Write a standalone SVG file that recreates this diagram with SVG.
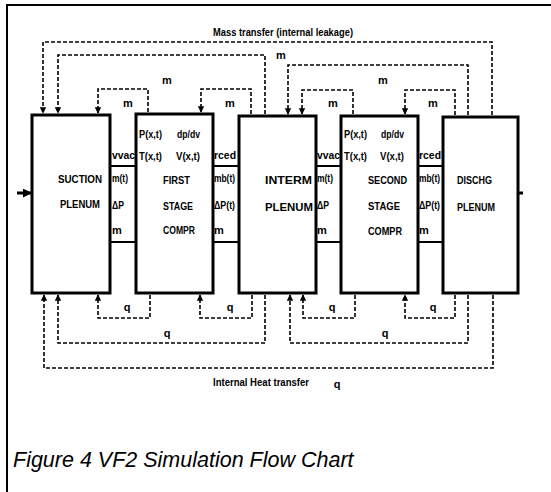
<svg xmlns="http://www.w3.org/2000/svg" width="551" height="492" viewBox="0 0 551 492">
<style>
.box{fill:#fff;stroke:#000;stroke-width:3}
.band{stroke:#000;stroke-width:2;fill:none}
.dash{fill:none;stroke:#000;stroke-width:1.6;stroke-dasharray:4 2}
.lb{font-family:"Liberation Sans",Arial,sans-serif;font-weight:bold;font-size:11.5px;fill:#000}
.sm{font-family:"Liberation Sans",Arial,sans-serif;font-weight:bold;font-size:11px;fill:#000}
.xs{font-family:"Liberation Sans",Arial,sans-serif;font-weight:bold;font-size:10px;fill:#000}
.cap{font-family:"Liberation Sans",Arial,sans-serif;font-style:italic;font-size:21.5px;fill:#000}
</style>
<defs>
<marker id="ah" viewBox="0 0 10 10" refX="9" refY="5" markerWidth="4" markerHeight="4.5" orient="auto" markerUnits="strokeWidth">
<path d="M0,0 L10,5 L0,10 z" fill="#000"/>
</marker>
<marker id="ah2" viewBox="0 0 10 10" refX="9" refY="5" markerWidth="3" markerHeight="3" orient="auto" markerUnits="strokeWidth">
<path d="M0,0 L10,5 L0,10 z" fill="#000"/>
</marker>
</defs>
<rect width="551" height="492" fill="#fff"/>
<g id="frame">
<path d="M7,492 V5 H551" fill="none" stroke="#000" stroke-width="2"/>
</g>
<g id="connectors">
<path class="band" d="M110,166 H137 M110,242 H137 M212,166 H239 M212,242 H239 M315,166 H342 M315,242 H342 M417,166 H444 M417,242 H444"/>
<path d="M17,193 H31" stroke="#000" stroke-width="3" fill="none" marker-end="url(#ah2)"/>
<path d="M518,193 H523" stroke="#000" stroke-width="3" fill="none"/>
<path class="dash" marker-end="url(#ah)" d="M492,115 V42 H43 V113"/>
<path class="dash" marker-end="url(#ah)" d="M265,114 V55 H58 V113"/>
<path class="dash" marker-end="url(#ah)" d="M468,115 V65 H288 V114"/>
<path class="dash" marker-end="url(#ah)" d="M148,112 V89 H98 V113"/>
<path class="dash" marker-end="url(#ah)" d="M251,114 V89 H201 V112"/>
<path class="dash" marker-end="url(#ah)" d="M353,114 V90 H302 V114"/>
<path class="dash" marker-end="url(#ah)" d="M455,115 V90 H405 V114"/>
<path class="dash" marker-end="url(#ah)" d="M493,295 V368 H44 V295"/>
<path class="dash" marker-end="url(#ah)" d="M265,295 V343 H58 V295"/>
<path class="dash" marker-end="url(#ah)" d="M468,295 V343 H290 V295"/>
<path class="dash" marker-end="url(#ah)" d="M150,295 V318 H98 V295"/>
<path class="dash" marker-end="url(#ah)" d="M252,295 V318 H200 V295"/>
<path class="dash" marker-end="url(#ah)" d="M355,295 V318 H303 V295"/>
<path class="dash" marker-end="url(#ah)" d="M455,295 V318 H405 V295"/>
</g>
<g id="connector-labels">
<text class="sm" x="283" y="36" text-anchor="middle" textLength="140" lengthAdjust="spacingAndGlyphs">Mass transfer (internal leakage)</text>
<text class="sm" x="281" y="59" text-anchor="middle">m</text>
<text class="sm" x="167" y="84" text-anchor="middle">m</text>
<text class="sm" x="383" y="84" text-anchor="middle">m</text>
<text class="sm" x="128" y="107" text-anchor="middle">m</text>
<text class="sm" x="230" y="107" text-anchor="middle">m</text>
<text class="sm" x="333" y="107" text-anchor="middle">m</text>
<text class="sm" x="433" y="107" text-anchor="middle">m</text>
<text class="sm" x="127" y="311" text-anchor="middle">q</text>
<text class="sm" x="230" y="311" text-anchor="middle">q</text>
<text class="sm" x="332" y="311" text-anchor="middle">q</text>
<text class="sm" x="433" y="311" text-anchor="middle">q</text>
<text class="sm" x="167" y="337" text-anchor="middle">q</text>
<text class="sm" x="385" y="337" text-anchor="middle">q</text>
<text class="xs" x="213" y="386" textLength="96" lengthAdjust="spacingAndGlyphs">Internal Heat transfer</text>
<text class="sm" x="337" y="388" text-anchor="middle">q</text>
<text class="sm" x="112" y="159" textLength="23" lengthAdjust="spacingAndGlyphs">vvac</text>
<text class="sm" x="112" y="182" textLength="16" lengthAdjust="spacingAndGlyphs">m(t)</text>
<text class="sm" x="112" y="209" textLength="12" lengthAdjust="spacingAndGlyphs">ΔP</text>
<text class="sm" x="112" y="234">m</text>
<text class="sm" x="214" y="159" textLength="22" lengthAdjust="spacingAndGlyphs">rced</text>
<text class="sm" x="214" y="182" textLength="21" lengthAdjust="spacingAndGlyphs">mb(t)</text>
<text class="sm" x="214" y="209" textLength="21" lengthAdjust="spacingAndGlyphs">ΔP(t)</text>
<text class="sm" x="214" y="234">m</text>
<text class="sm" x="317" y="159" textLength="23" lengthAdjust="spacingAndGlyphs">vvac</text>
<text class="sm" x="317" y="182" textLength="16" lengthAdjust="spacingAndGlyphs">m(t)</text>
<text class="sm" x="317" y="209" textLength="12" lengthAdjust="spacingAndGlyphs">ΔP</text>
<text class="sm" x="317" y="234">m</text>
<text class="sm" x="419" y="159" textLength="22" lengthAdjust="spacingAndGlyphs">rced</text>
<text class="sm" x="419" y="182" textLength="21" lengthAdjust="spacingAndGlyphs">mb(t)</text>
<text class="sm" x="419" y="209" textLength="21" lengthAdjust="spacingAndGlyphs">ΔP(t)</text>
<text class="sm" x="419" y="234">m</text>
</g>
<g id="suction-plenum">
<rect class="box" x="32" y="115" width="78" height="178"/>
<text class="lb" x="58" y="183" textLength="44" lengthAdjust="spacingAndGlyphs">SUCTION</text>
<text class="lb" x="60" y="208" textLength="40" lengthAdjust="spacingAndGlyphs">PLENUM</text>
</g>
<g id="first-stage-compr">
<rect class="box" x="136" y="114" width="77" height="179"/>
<text class="sm" x="139" y="138" textLength="23" lengthAdjust="spacingAndGlyphs">P(x,t)</text>
<text class="sm" x="177" y="138" textLength="23" lengthAdjust="spacingAndGlyphs">dp/dv</text>
<text class="sm" x="139" y="160" textLength="23" lengthAdjust="spacingAndGlyphs">T(x,t)</text>
<text class="sm" x="176" y="160" textLength="24" lengthAdjust="spacingAndGlyphs">V(x,t)</text>
<text class="lb" x="163" y="184" textLength="27" lengthAdjust="spacingAndGlyphs">FIRST</text>
<text class="lb" x="163" y="210" textLength="30" lengthAdjust="spacingAndGlyphs">STAGE</text>
<text class="lb" x="163" y="234" textLength="32" lengthAdjust="spacingAndGlyphs">COMPR</text>
</g>
<g id="interm-plenum">
<rect class="box" x="239" y="116" width="77" height="177"/>
<text class="lb" x="265" y="184" textLength="47" lengthAdjust="spacingAndGlyphs">INTERM</text>
<text class="lb" x="265" y="211" textLength="48" lengthAdjust="spacingAndGlyphs">PLENUM</text>
</g>
<g id="second-stage-compr">
<rect class="box" x="341" y="116" width="77" height="177"/>
<text class="sm" x="344" y="138" textLength="23" lengthAdjust="spacingAndGlyphs">P(x,t)</text>
<text class="sm" x="381" y="138" textLength="23" lengthAdjust="spacingAndGlyphs">dp/dv</text>
<text class="sm" x="344" y="160" textLength="23" lengthAdjust="spacingAndGlyphs">T(x,t)</text>
<text class="sm" x="380" y="160" textLength="24" lengthAdjust="spacingAndGlyphs">V(x,t)</text>
<text class="lb" x="368" y="184" textLength="39" lengthAdjust="spacingAndGlyphs">SECOND</text>
<text class="lb" x="368" y="210" textLength="32" lengthAdjust="spacingAndGlyphs">STAGE</text>
<text class="lb" x="368" y="235" textLength="34" lengthAdjust="spacingAndGlyphs">COMPR</text>
</g>
<g id="dischg-plenum">
<rect class="box" x="443" y="117" width="75" height="176"/>
<text class="lb" x="457" y="184" textLength="35" lengthAdjust="spacingAndGlyphs">DISCHG</text>
<text class="lb" x="457" y="211" textLength="38" lengthAdjust="spacingAndGlyphs">PLENUM</text>
</g>
<g id="caption">
<text class="cap" x="13" y="467">Figure 4 VF2 Simulation Flow Chart</text>
</g>
</svg>
